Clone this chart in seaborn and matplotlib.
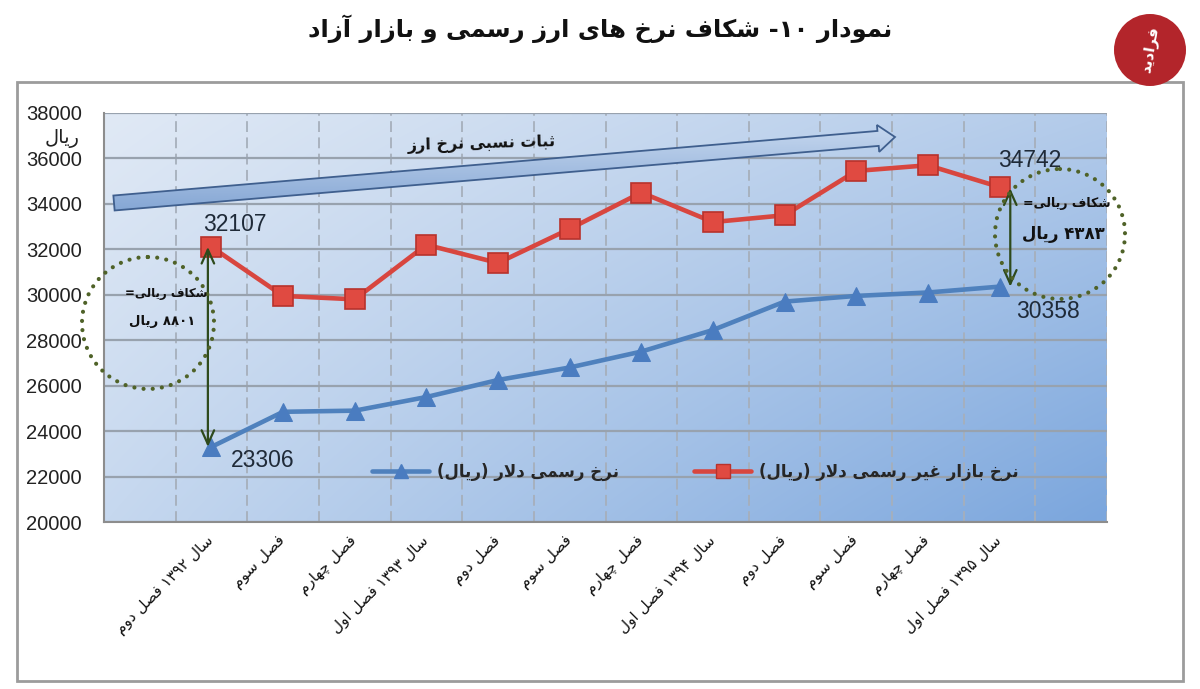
import numpy as np
import matplotlib
matplotlib.use("Agg")
import matplotlib.pyplot as plt
import matplotlib.transforms as mtransforms
import seaborn as sns
from matplotlib.patches import Ellipse, FancyArrow, Circle, Rectangle
from matplotlib.lines import Line2D
from matplotlib.image import AxesImage
from matplotlib import font_manager
from matplotlib.font_manager import FontProperties
from matplotlib.ft2font import FT2Font
from matplotlib.colors import to_rgb

# ---------------- data ----------------
categories = ["سال ۱۳۹۲ فصل دوم", "فصل سوم", "فصل چهارم", "سال ۱۳۹۳ فصل اول",
              "فصل دوم", "فصل سوم", "فصل چهارم", "سال ۱۳۹۴ فصل اول",
              "فصل دوم", "فصل سوم", "فصل چهارم", "سال ۱۳۹۵ فصل اول"]
free_market = [32107, 29950, 29800, 32200, 31400, 32900, 34500, 33200, 33500, 35450, 35700, 34742]
official = [23306, 24850, 24900, 25500, 26250, 26800, 27500, 28450, 29700, 29950, 30100, 30358]
y_ticks = [20000, 22000, 24000, 26000, 28000, 30000, 32000, 34000, 36000, 38000]
series_names = ["نرخ رسمی دلار (ریال)", "نرخ بازار غیر رسمی دلار (ریال)"]
title_text = "نمودار ۱۰- شکاف نرخ های ارز رسمی و بازار آزاد"
unit_text = "ریال"
trend_text = "ثبات نسبی نرخ ارز"
gap_label = "شکاف ریالی="
gap_left_text = "۸۸۰۱ ریال"
gap_right_text = "۴۳۸۳ ریال"
logo_text = "فرادید"

# ---------------- minimal Persian shaping + bidi ----------------
DUAL = {'ب': 0xFE8F, 'ت': 0xFE95, 'ث': 0xFE99, 'ج': 0xFE9D, 'ح': 0xFEA1, 'خ': 0xFEA5,
        'س': 0xFEB1, 'ش': 0xFEB5, 'ص': 0xFEB9, 'ض': 0xFEBD, 'ط': 0xFEC1, 'ظ': 0xFEC5,
        'ع': 0xFEC9, 'غ': 0xFECD, 'ف': 0xFED1, 'ق': 0xFED5, 'ك': 0xFED9, 'ل': 0xFEDD,
        'م': 0xFEE1, 'ن': 0xFEE5, 'ه': 0xFEE9, 'ي': 0xFEF1, 'ی': 0xFBFC, 'ک': 0xFB8E,
        'گ': 0xFB92, 'پ': 0xFB56, 'چ': 0xFB7A}
RIGHT = {'ا': 0xFE8D, 'آ': 0xFE81, 'د': 0xFEA9, 'ذ': 0xFEAB, 'ر': 0xFEAD, 'ز': 0xFEAF,
         'ژ': 0xFB8A, 'و': 0xFEED, 'ة': 0xFE93}
DIGITS = set("0123456789۰۱۲۳۴۵۶۷۸۹")
_cmaps = {}


def _cmap(bold):
    if bold not in _cmaps:
        fp = FontProperties(family="DejaVu Sans", weight="bold" if bold else "normal")
        _cmaps[bold] = set(FT2Font(font_manager.findfont(fp)).get_charmap().keys())
    return _cmaps[bold]


def shape(s, bold=False):
    cm = _cmap(bold)

    def pick(code, base):
        return chr(code) if code in cm else base

    out = []
    n = len(s)
    i = 0
    while i < n:
        c = s[i]
        prev = s[i - 1] if i > 0 else ''
        prev_j = prev in DUAL
        if c == 'ل' and i + 1 < n and s[i + 1] in ('ا', 'آ'):
            base = 0xFEFB if s[i + 1] == 'ا' else 0xFEF5
            out.append(pick(base + (1 if prev_j else 0), c + s[i + 1]))
            i += 2
            continue
        nxt = s[i + 1] if i + 1 < n else ''
        next_j = nxt in DUAL or nxt in RIGHT
        if c in DUAL:
            if prev_j and next_j:
                k = 3
            elif prev_j:
                k = 1
            elif next_j:
                k = 2
            else:
                k = 0
            out.append(pick(DUAL[c] + k, c))
        elif c in RIGHT:
            out.append(pick(RIGHT[c] + (1 if prev_j else 0), c))
        else:
            out.append(c)
        i += 1
    return ''.join(out)


def visual(s, bold=False):
    r = shape(s, bold)[::-1]
    out = []
    i = 0
    while i < len(r):
        if r[i] in DIGITS:
            j = i
            while j < len(r) and r[j] in DIGITS:
                j += 1
            out.append(r[i:j][::-1])
            i = j
        else:
            out.append({'(': ')', ')': '('}.get(r[i], r[i]))
            i += 1
    return ''.join(out)


# ---------------- figure ----------------
sns.set_style("white")
plt.rcParams["font.family"] = ["DejaVu Sans"]
W, H = 1200, 689
fig = plt.figure(figsize=(W / 100, H / 100), dpi=100)
fig.patch.set_facecolor("white")
# pixel coordinates (origin top-left) for decorations
pix = mtransforms.Affine2D().scale(1 / W, -1 / H).translate(0, 1) + fig.transFigure

L, R, T, B = 104, 1107, 113, 522
ax = fig.add_axes([L / W, 1 - B / H, (R - L) / W, (B - T) / H])

# background gradient of plot area
ny, nx = 60, 120
xx, yy = np.meshgrid(np.linspace(0, 1, nx), np.linspace(1, 0, ny))  # yy=1 at top row
tl, tr = np.array(to_rgb("#e0e9f5")), np.array(to_rgb("#b3cbea"))
bl, br = np.array(to_rgb("#c6d8ef")), np.array(to_rgb("#7ba6dd"))
grad = (tl[None, None] * ((1 - xx) * yy)[..., None] + tr[None, None] * (xx * yy)[..., None]
        + bl[None, None] * ((1 - xx) * (1 - yy))[..., None] + br[None, None] * (xx * (1 - yy))[..., None])
ax.imshow(grad, extent=(0, 1, 0, 1), transform=ax.transAxes, aspect="auto", zorder=0,
          interpolation="bilinear")

xpos = np.arange(len(categories))
red_line, red_face, red_edge = "#d8463f", "#e04a41", "#b8322c"
blue_line, blue_face = "#4f81bd", "#4a7cc0"

sns.lineplot(x=xpos, y=official, ax=ax, color=blue_line, lw=3.3, marker="^", markersize=13,
             markerfacecolor=blue_face, markeredgecolor=blue_face, legend=False, zorder=5)
sns.lineplot(x=xpos, y=free_market, ax=ax, color=red_line, lw=3.3, marker="s", markersize=14,
             markerfacecolor=red_face, markeredgecolor=red_edge, markeredgewidth=1.2,
             legend=False, zorder=6)

# axes / ticks / grid
ax.set_xlim(-1.5, len(categories) + 0.5)
ax.set_ylim(y_ticks[0], y_ticks[-1])
ax.set_xticks(np.arange(-1.5, len(categories) + 0.6, 1.0))
ax.set_xticklabels([])
ax.set_xticks(xpos, minor=True)
ax.set_xticklabels([visual(c) for c in categories], minor=True, rotation=45, ha="right",
                   va="center", rotation_mode="anchor", fontsize=11, color="#111111",
                   family="DejaVu Sans")
ax.tick_params(axis="x", which="minor", length=0, pad=12)
ax.tick_params(axis="x", which="major", length=6, width=1.2, color="#8d8d8d", direction="out")
ax.set_yticks(y_ticks)
ax.set_yticklabels([str(v) for v in y_ticks], fontsize=14.5, family="Liberation Sans", color="#222222")
ax.tick_params(axis="y", length=7, width=1.2, pad=9, color="#8d8d8d", direction="out")
ax.grid(axis="y", color="#98a2ae", lw=1.6, zorder=1)
ax.grid(axis="x", which="major", color="#a6afbb", lw=1.3, ls=(0, (6, 3)), zorder=1)
ax.set_axisbelow(True)
for s in ("top", "right"):
    ax.spines[s].set_visible(False)
for s in ("left", "bottom"):
    ax.spines[s].set_color("#8d8d8d")
    ax.spines[s].set_linewidth(1.5)
ax.set_xlabel("")
ax.set_ylabel("")

# value labels
val_kw = dict(textcoords="offset points", ha="center", va="center", fontsize=16.5,
              family="Liberation Sans", color="#1f2a38", zorder=8)
ax.annotate(str(free_market[0]), xy=(xpos[0], free_market[0]), xytext=(17, 16), **val_kw)
ax.annotate(str(official[0]), xy=(xpos[0], official[0]), xytext=(37, -10), **val_kw)
ax.annotate(str(free_market[-1]), xy=(xpos[-1], free_market[-1]), xytext=(22, 19), **val_kw)
ax.annotate(str(official[-1]), xy=(xpos[-1], official[-1]), xytext=(35, -18), **val_kw)

# gap double arrows
gap_kw = dict(arrowstyle="<->,head_length=1.0,head_width=0.45", color="#2e4a1c", lw=1.6,
              shrinkA=0, shrinkB=0)
ax.annotate("", xy=(xpos[0] - 0.05, free_market[0]), xytext=(xpos[0] - 0.05, official[0]),
            arrowprops=gap_kw, zorder=7)
ax.annotate("", xy=(xpos[-1] + 0.15, free_market[-1] - 60), xytext=(xpos[-1] + 0.15, official[-1]),
            arrowprops=gap_kw, zorder=7)

# legend
handles = [Line2D([], [], color=blue_line, lw=3.3, marker="^", markersize=10,
                  markerfacecolor=blue_face, markeredgecolor=blue_face),
           Line2D([], [], color=red_line, lw=3.3, marker="s", markersize=10,
                  markerfacecolor=red_face, markeredgecolor=red_edge)]
ax.legend(handles, [visual(n, True) for n in series_names], ncol=2, loc="center",
          bbox_to_anchor=(0.59, 0.122), frameon=False,
          prop=FontProperties(family="DejaVu Sans", weight="bold", size=12),
          handlelength=3.4, handletextpad=0.5, columnspacing=4.5)

# trend arrow with gradient fill
arrow = FancyArrow(114, 203, 781, -66, width=15, head_width=27, head_length=17,
                   length_includes_head=True, transform=pix, fc="none",
                   ec="#3f5f8e", lw=1.3, zorder=4)
ax.add_artist(arrow)
agrad = np.linspace(0, 1, 50)[:, None, None]
c1, c2 = np.array(to_rgb("#c9daf0")), np.array(to_rgb("#7fa2d2"))
aimg = (c1 * (1 - agrad) + c2 * agrad) * np.ones((50, 2, 3))
im = AxesImage(ax, interpolation="bilinear")
im.set_data(aimg)
im.set_transform(pix)
im.set_extent((110, 900, 220, 120))
im.set_zorder(3.9)
ax.add_image(im)
im.set_clip_path(arrow)
fig.text(482, 144, visual(trend_text, True), transform=pix, ha="center", va="center",
         fontsize=11.5, weight="bold", color="#111111", rotation=1.5, zorder=9)

# dotted circles
for cx, cy, r in ((148, 323, 66), (1060, 234, 65)):
    e = Ellipse((cx, cy), 2 * r, 2 * r, transform=pix, fill=False, ec="#4f6228", lw=3.0,
                ls=(0, (0.01, 2.2)), zorder=6)
    e.set_capstyle("round")
    fig.add_artist(e)

# gap texts
fig.text(166, 293, visual(gap_label, True), transform=pix, ha="center", va="center",
         fontsize=8.5, weight="bold", color="#111111", zorder=9)
fig.text(162, 322, visual(gap_left_text, True), transform=pix, ha="center", va="center",
         fontsize=9.5, weight="bold", color="#111111", zorder=9)
fig.text(1067, 204, visual(gap_label, True), transform=pix, ha="center", va="center",
         fontsize=9, weight="bold", color="#111111", zorder=9)
fig.text(1063, 234, visual(gap_right_text, True), transform=pix, ha="center", va="center",
         fontsize=12, weight="bold", color="#111111", zorder=9)

# unit label
fig.text(62, 138, visual(unit_text), transform=pix, ha="center", va="center",
         fontsize=14, color="#222222", zorder=9)

# outer frame
fig.add_artist(Rectangle((17, 82), 1166, 599, transform=pix, fill=False, ec="#9c9c9c", lw=2))

# title
fig.text(600, 29, visual(title_text, True), transform=pix, ha="center", va="center",
         fontsize=17.5, weight="bold", color="#111111")

# logo
fig.add_artist(Circle((1150, 50), 36, transform=pix, fc="#b3252b", ec="none", zorder=3))
fig.text(1150, 50, visual(logo_text, True), transform=pix, ha="center", va="center",
         fontsize=11, weight="bold", color="white", rotation=80, zorder=4)

fig.savefig("out.png", dpi=100)
